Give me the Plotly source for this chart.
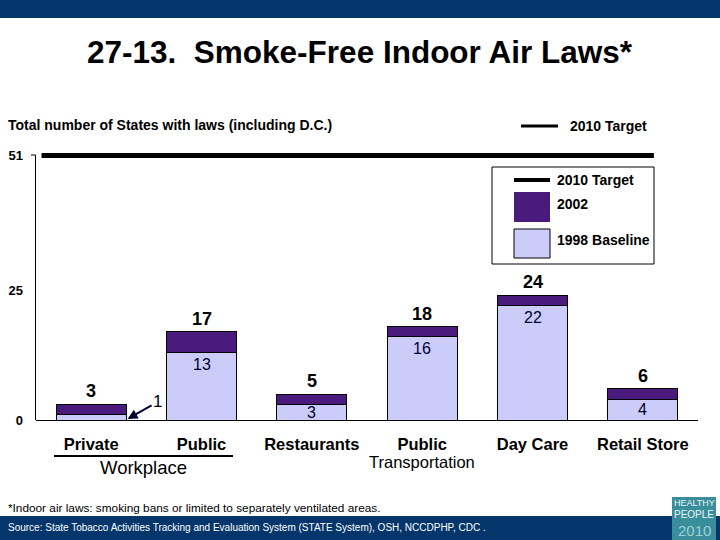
import plotly.graph_objects as go

# ---------------- data ----------------
categories = ["Private", "Public", "Restaurants", "Public Transportation", "Day Care", "Retail Store"]
tick_labels = ["<b>Private</b>", "<b>Public</b>", "<b>Restaurants</b>",
               "<b>Public</b>", "<b>Day Care</b>", "<b>Retail Store</b>"]
tick_sublabels = ["", "", "", "Transportation", "", ""]
baseline_1998 = [1, 13, 3, 16, 22, 4]
total_2002 = [3, 17, 5, 18, 24, 6]
target_2010 = 51
y_ticks = [0, 25, 51]

# ---------------- style ----------------
FONT = "Arial, Liberation Sans, sans-serif"
NAVY = "#04366b"
LAV = "#ccccf8"
PURPLE = "#4a1b7c"
W, H = 720, 540
L, R, T, B = 36, 22, 145, 120
PW, PH = W - L - R, H - T - B
YMAX = 53


def px(x):
    return (x - L) / PW


def py(y):
    return (H - B - y) / PH


xs = list(range(len(categories)))
increment = [t - b for t, b in zip(total_2002, baseline_1998)]

fig = go.Figure()
fig.add_trace(go.Bar(x=xs, y=baseline_1998, width=0.634, name="1998 Baseline",
                     marker=dict(color=LAV, line=dict(color="black", width=1))))
fig.add_trace(go.Bar(x=xs, y=increment, width=0.634, name="2002",
                     marker=dict(color=PURPLE, line=dict(color="black", width=1))))
# 2010 target line
fig.add_trace(go.Scatter(x=[-0.45, len(categories) - 0.9], y=[target_2010, target_2010],
                         mode="lines", line=dict(color="black", width=5),
                         name="2010 Target", cliponaxis=False))

ann = []
unit_px = PH / YMAX
for i, (b, t) in enumerate(zip(baseline_1998, total_2002)):
    ann.append(dict(x=i, y=t, xref="x", yref="y", text=f"<b>{t}</b>", showarrow=False,
                    yshift=13, font=dict(family=FONT, size=18, color="black")))
    if b * unit_px < 10:
        ann.append(dict(x=i + 0.33, y=0.2, xref="x", yref="y", text=f"{b}", showarrow=True,
                        arrowhead=2, arrowsize=1, arrowwidth=2, arrowcolor="#000033",
                        ax=30, ay=-17, font=dict(family=FONT, size=17, color="black")))
    else:
        shift = -min(12, b * unit_px / 2)
        ann.append(dict(x=i, y=b, xref="x", yref="y", text=f"{b}", showarrow=False,
                        yshift=shift, font=dict(family=FONT, size=16, color="#000033")))
    if tick_sublabels[i]:
        ann.append(dict(x=i, y=0, xref="x", yref="y", text=tick_sublabels[i], showarrow=False,
                        yanchor="middle", yshift=-42, font=dict(family=FONT, size=16.5, color="black")))

def txt(x, y, s, size=12, bold=False, color="black", xanchor="left"):
    ann.append(dict(x=px(x), y=py(y), xref="paper", yref="paper",
                    text=f"<b>{s}</b>" if bold else s, showarrow=False,
                    xanchor=xanchor, yanchor="middle",
                    font=dict(family=FONT, size=size, color=color)))

txt(360, 52, "27-13.  Smoke-Free Indoor Air Laws*", size=31.5, bold=True, xanchor="center")
txt(6, 125, "Total number of States with laws (including D.C.)", size=14, bold=True)
txt(568, 126, "2010 Target", size=14, bold=True)
txt(555, 180, "2010 Target", size=14, bold=True)
txt(555, 204, "2002", size=14, bold=True)
txt(555, 240, "1998 Baseline", size=14, bold=True)
txt(143, 467, "Workplace", size=18.5, xanchor="center")
txt(6, 508, "*Indoor air laws: smoking bans or limited to separately ventilated areas.", size=11.8)
txt(6, 527, "Source: State Tobacco Activities Tracking and Evaluation System (STATE System), OSH, NCCDPHP, CDC .",
    size=10, color="white")
txt(694, 503, "HEALTHY", size=9, color="#e8f4f4", xanchor="center")
txt(694, 514, "PEOPLE", size=10, color="#e8f4f4", xanchor="center")
txt(694, 530, "2010", size=15, color="#9fd0d6", xanchor="center")

shapes = []

def rect(x0, y0, x1, y1, fill, line=None, lw=0):
    shapes.append(dict(type="rect", xref="paper", yref="paper", x0=px(x0), x1=px(x1),
                       y0=py(y0), y1=py(y1), fillcolor=fill,
                       line=dict(color=line or fill, width=lw), layer="above"))

def line(x0, y0, x1, y1, w=1, color="black"):
    shapes.append(dict(type="line", xref="paper", yref="paper", x0=px(x0), x1=px(x1),
                       y0=py(y0), y1=py(y1), line=dict(color=color, width=w), layer="above"))

rect(0, 0, 720, 18, NAVY)
rect(0, 516, 720, 540, NAVY)
rect(672, 497, 716, 540, "#3a8e9c")
# y axis line and top tick
line(35.5, 420, 35.5, 155)
line(31, 155, 35.5, 155)
# top legend
line(521, 126, 558, 126, w=3)
# boxed legend
rect(492, 167, 654, 264, "white", "black", 1)
line(514, 180, 550, 180, w=4)
rect(514, 192, 550, 222, PURPLE)
rect(514, 229, 550, 258, LAV, "black", 1)
# workplace bracket
line(54, 456, 233, 456, w=2)

fig.update_layout(
    width=W, height=H, margin=dict(l=L, r=R, t=T, b=B, autoexpand=False),
    paper_bgcolor="white", plot_bgcolor="white",
    barmode="stack", showlegend=False,
    annotations=ann, shapes=shapes,
    font=dict(family=FONT, color="black"),
    xaxis=dict(range=[-0.5, len(categories) - 0.5], tickvals=xs, ticktext=tick_labels,
               showline=True, linecolor="black", linewidth=1, ticks="", showgrid=False,
               zeroline=False, tickfont=dict(family=FONT, size=16.5, color="black"),
               ticklabelstandoff=9, automargin=False),
    yaxis=dict(range=[0, YMAX], tickvals=y_ticks, ticktext=[f"<b>{v}</b>" for v in y_ticks],
               showline=False, ticks="", showgrid=False, zeroline=False,
               tickfont=dict(family=FONT, size=13, color="black"), ticklabelstandoff=12,
               automargin=False),
)

fig.write_html("out.html")
